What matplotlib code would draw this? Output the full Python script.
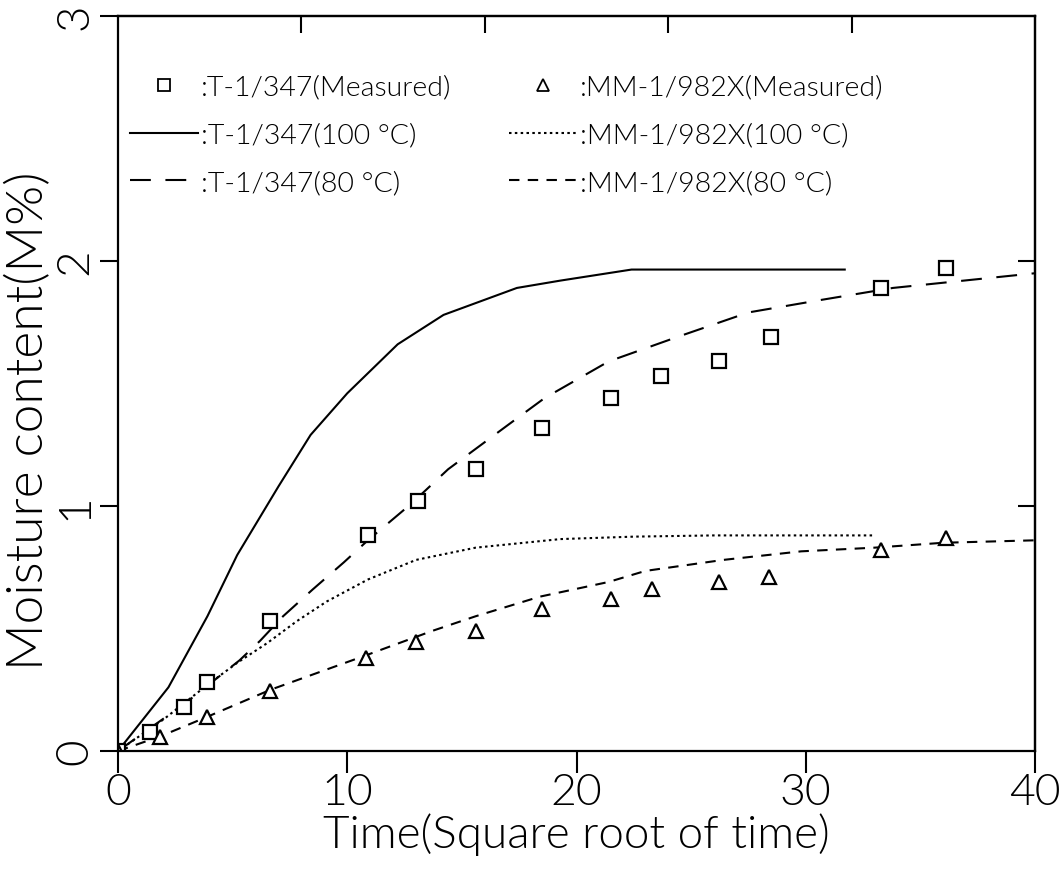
import matplotlib
matplotlib.use('Agg')
import matplotlib.pyplot as plt
from matplotlib.lines import Line2D

# thin plotter-like lettering
plt.rcParams['font.family'] = ['Lato', 'DejaVu Sans']
plt.rcParams['font.weight'] = 300
plt.rcParams['axes.labelweight'] = 300
plt.rcParams['axes.linewidth'] = 1.6

# measured points (time = sqrt of time)
t_sq = [0, 1.4, 2.9, 3.9, 6.65, 10.9, 13.1, 15.6, 18.5, 21.5, 23.7, 26.2, 28.5, 33.3, 36.1]
m_sq = [0, 0.078, 0.18, 0.28, 0.53, 0.88, 1.02, 1.15, 1.32, 1.44, 1.53, 1.59, 1.69, 1.89, 1.97]

t_tri = [0, 1.85, 3.9, 6.65, 10.8, 13.0, 15.6, 18.5, 21.5, 23.3, 26.2, 28.4, 33.3, 36.1]
m_tri = [0, 0.057, 0.14, 0.245, 0.38, 0.445, 0.49, 0.58, 0.62, 0.66, 0.69, 0.71, 0.82, 0.87]

# simulated curves
t_t100 = [0, 2.2, 3.9, 5.2, 7.0, 8.4, 10.0, 12.2, 14.2, 17.4, 19.3, 22.4, 31.7]
m_t100 = [0, 0.26, 0.55, 0.80, 1.08, 1.29, 1.46, 1.66, 1.78, 1.89, 1.92, 1.965, 1.965]

t_t80 = [0, 3.0, 5.3, 6.2, 7.2, 8.5, 9.85, 10.9, 12.8, 14.4, 17.0, 18.6, 21.4, 24.4, 27.5, 30.6, 33.8, 36.9, 40]
m_t80 = [0, 0.20, 0.37, 0.45, 0.55, 0.66, 0.77, 0.86, 1.01, 1.15, 1.33, 1.44, 1.59, 1.69, 1.79, 1.84, 1.89, 1.92, 1.95]

t_m100 = [0, 2.0, 3.9, 5.2, 6.5, 7.8, 9.1, 10.9, 13.0, 15.6, 19.3, 22.5, 26.0, 33.0]
m_m100 = [0, 0.13, 0.27, 0.36, 0.44, 0.53, 0.61, 0.70, 0.78, 0.83, 0.865, 0.875, 0.88, 0.88]

t_m80 = [0, 1.85, 3.9, 6.65, 10.8, 13.7, 15.6, 18.4, 21.4, 23.0, 26.4, 29.8, 33.0, 36.0, 40]
m_m80 = [0, 0.06, 0.14, 0.25, 0.39, 0.49, 0.55, 0.63, 0.69, 0.735, 0.78, 0.815, 0.83, 0.85, 0.86]

labels = [':T-1/347(Measured)', ':T-1/347(100 °C)', ':T-1/347(80 °C)',
          ':MM-1/982X(Measured)', ':MM-1/982X(100 °C)', ':MM-1/982X(80 °C)']

fig = plt.figure(figsize=(10.62, 8.70), dpi=100)
ax = fig.add_axes([0.1111, 0.1356, 0.8635, 0.8449])

lw = 1.5
ax.plot(t_t100, m_t100, color='black', lw=lw)
ax.plot(t_t80, m_t80, color='black', lw=lw, dashes=(10, 7))
ax.plot(t_m100, m_m100, color='black', lw=lw, dashes=(1.2, 1.6))
ax.plot(t_m80, m_m80, color='black', lw=lw, dashes=(5, 4))
ax.plot(t_sq, m_sq, ls='none', marker='s', ms=10, mfc='white', mec='black', mew=1.6)
ax.plot(t_tri, m_tri, ls='none', marker='^', ms=10, mfc='white', mec='black', mew=1.6)

ax.set_xlim(0, 40)
ax.set_ylim(0, 3)
ax.set_xticks([0, 10, 20, 30, 40])
ax.set_yticks([0, 1, 2, 3])
ax.tick_params(axis='x', direction='out', length=16, width=1.5, labelsize=32, pad=0)
ax.tick_params(axis='y', direction='out', length=13, width=1.5, labelsize=33, pad=3,
               labelrotation=90)
for lab in ax.get_yticklabels():
    lab.set_va('center')

top = ax.secondary_xaxis('top')
top.set_xticks([8, 16, 24, 32])
top.tick_params(direction='in', length=12, width=1.5, labeltop=False)
right = ax.secondary_yaxis('right')
right.set_yticks([1, 2])
right.tick_params(direction='in', length=12, width=1.5, labelright=False)

ax.set_xlabel('Time(Square root of time)', fontsize=33, labelpad=0)
ax.set_ylabel('Moisture content(M%)', fontsize=37)
ax.yaxis.set_label_coords(-0.072, 0.45)

handles = [
    Line2D([], [], ls='none', marker='s', ms=8, mfc='white', mec='black', mew=1.3),
    Line2D([], [], color='black', lw=lw),
    Line2D([], [], color='black', lw=lw, dashes=(10, 7)),
    Line2D([], [], ls='none', marker='^', ms=8, mfc='white', mec='black', mew=1.3),
    Line2D([], [], color='black', lw=lw, dashes=(1.2, 1.6)),
    Line2D([], [], color='black', lw=lw, dashes=(5, 4)),
]
ax.legend(handles, labels, ncol=2, loc='upper left', bbox_to_anchor=(0.013, 0.92),
          frameon=False, fontsize=20.5, handlelength=2.4, handletextpad=0.1,
          labelspacing=0.8, columnspacing=2.0, borderpad=0, borderaxespad=0)

fig.savefig('out.png', dpi=100)
